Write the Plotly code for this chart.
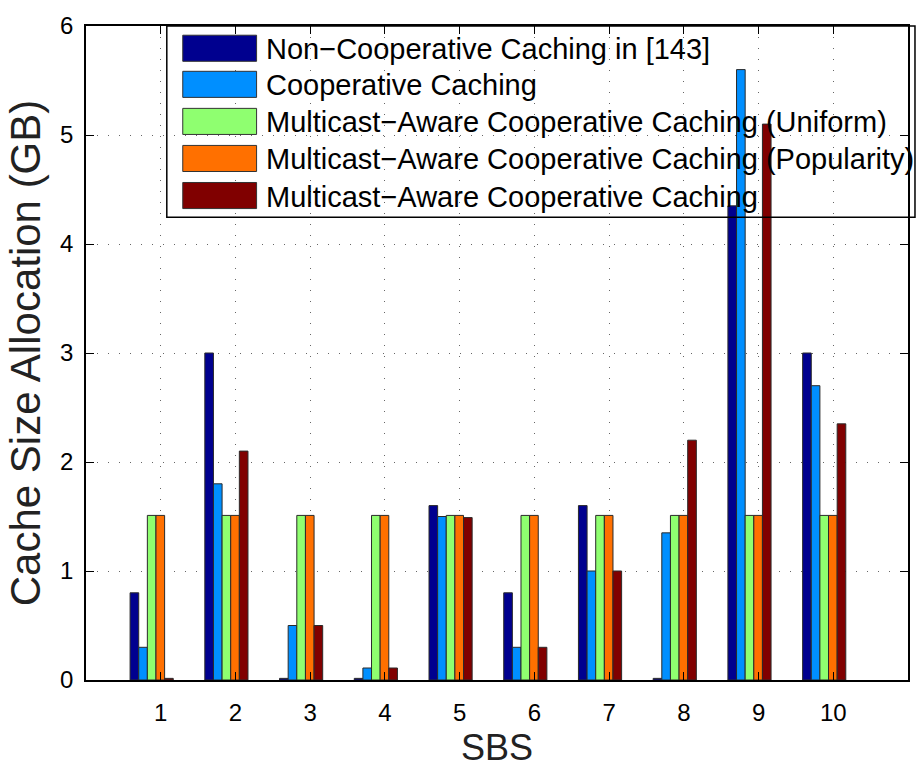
import plotly.graph_objects as go

# ---- data -------------------------------------------------------------
sbs = [1, 2, 3, 4, 5, 6, 7, 8, 9, 10]

non_cooperative = [0.80, 3.00, 0.015, 0.015, 1.60, 0.80, 1.60, 0.015, 4.35, 3.00]
cooperative = [0.30, 1.80, 0.50, 0.11, 1.50, 0.30, 1.00, 1.35, 5.60, 2.70]
mc_uniform = [1.51, 1.51, 1.51, 1.51, 1.51, 1.51, 1.51, 1.51, 1.51, 1.51]
mc_popularity = [1.51, 1.51, 1.51, 1.51, 1.51, 1.51, 1.51, 1.51, 1.51, 1.51]
mc_aware = [0.015, 2.10, 0.50, 0.11, 1.49, 0.30, 1.00, 2.20, 5.10, 2.35]

series_names = [
    "Non\u2212Cooperative Caching in [143]",
    "Cooperative Caching",
    "Multicast\u2212Aware Cooperative Caching (Uniform)",
    "Multicast\u2212Aware Cooperative Caching (Popularity)",
    "Multicast\u2212Aware Cooperative Caching",
]
series_values = [non_cooperative, cooperative, mc_uniform, mc_popularity, mc_aware]

y_ticks = [0, 1, 2, 3, 4, 5, 6]

# ---- style --------------------------------------------------------------
colors = ["#00008F", "#008FFF", "#8FFF70", "#FF7000", "#800000"]
FONT = "Liberation Sans, Arial, Helvetica, sans-serif"
W, H = 922, 773
M_L, M_R, M_T, M_B = 86, 12, 19, 87
PLOT_W = W - M_L - M_R
PLOT_H = H - M_T - M_B

BAR_W = 0.1155       # width of one bar in x units
GROUP_START = -0.41  # left edge of each group relative to its SBS index

fig = go.Figure()
for k, (name, vals) in enumerate(zip(series_names, series_values)):
    fig.add_trace(go.Bar(
        x=sbs, y=vals, name=name,
        width=BAR_W, offset=GROUP_START + k * BAR_W,
        marker=dict(color=colors[k], line=dict(color="#2a2a2a", width=1)),
        showlegend=False,
    ))

# ---- legend drawn as a boxed key with wide swatches ---------------------
def px_x(x):
    return (x - M_L) / PLOT_W

def px_y(y):
    return (M_T + PLOT_H - y) / PLOT_H

shapes = [dict(type="rect", xref="paper", yref="paper",
               x0=px_x(167), x1=px_x(917), y0=px_y(214), y1=px_y(19),
               line=dict(color="black", width=1.5), fillcolor="rgba(0,0,0,0)",
               layer="above")]
annotations = []
row_centers = [41.7, 78.5, 116.3, 154.1, 191.9]
for k, name in enumerate(series_names):
    cy = row_centers[k]
    shapes.append(dict(type="rect", xref="paper", yref="paper",
                       x0=px_x(183), x1=px_x(257),
                       y0=px_y(cy + 13.3), y1=px_y(cy - 13.3),
                       line=dict(color="#333333", width=1),
                       fillcolor=colors[k], layer="above"))
    annotations.append(dict(xref="paper", yref="paper",
                            x=px_x(264), y=px_y(cy + 1),
                            xanchor="left", yanchor="middle",
                            text=name, showarrow=False,
                            font=dict(family=FONT, size=29, color="black")))

axis_common = dict(
    showline=True, linecolor="black", linewidth=1.5, mirror="ticks",
    ticks="inside", ticklen=8, tickwidth=1, tickcolor="black",
    showgrid=True, gridcolor="#666666", gridwidth=1, griddash="1px,10px",
    zeroline=False,
    tickfont=dict(family=FONT, size=24, color="black"),
)

fig.update_layout(
    width=W, height=H,
    margin=dict(l=M_L, r=M_R, t=M_T, b=M_B),
    paper_bgcolor="white", plot_bgcolor="white",
    barmode="overlay",
    shapes=shapes, annotations=annotations,
    xaxis=dict(
        axis_common, range=[0, 11], tickmode="array", tickvals=sbs,
        ticktext=[str(s) for s in sbs], ticklabelstandoff=10,
        title=dict(text="SBS", font=dict(family=FONT, size=36, color="#222222"),
                   standoff=10),
    ),
    yaxis=dict(
        axis_common, range=[0, 6], tickmode="array", tickvals=y_ticks,
        ticktext=[str(v) for v in y_ticks], ticklabelstandoff=6,
        title=dict(text="Cache Size Allocation (GB)",
                   font=dict(family=FONT, size=42, color="#222222"),
                   standoff=6),
    ),
)

fig.write_html("out.html")
